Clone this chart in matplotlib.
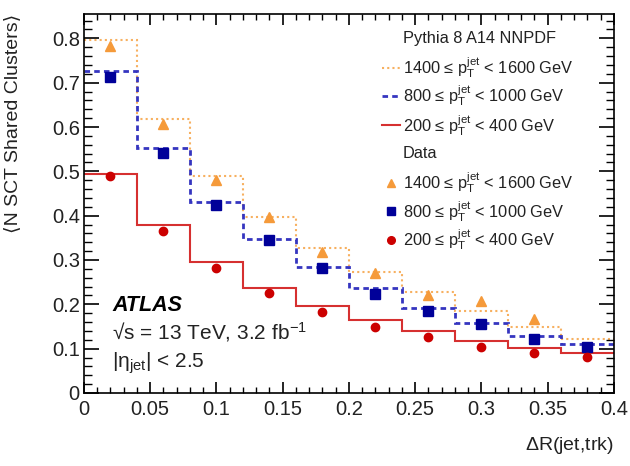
import numpy as np
import matplotlib
matplotlib.use("Agg")
import matplotlib.pyplot as plt
from matplotlib.ticker import MultipleLocator

plt.rcParams['font.family'] = ['Liberation Sans', 'DejaVu Sans']
plt.rcParams['mathtext.fontset'] = 'custom'
plt.rcParams['mathtext.rm'] = 'Liberation Sans'
plt.rcParams['mathtext.it'] = 'Liberation Sans:italic'
plt.rcParams['mathtext.bf'] = 'Liberation Sans:bold'

# binning in Delta R(jet, trk)
edges = np.linspace(0.0, 0.4, 11)
centers = 0.5 * (edges[:-1] + edges[1:])

# Pythia 8 A14 NNPDF
mc_1400 = [0.796, 0.617, 0.489, 0.397, 0.327, 0.273, 0.227, 0.185, 0.149, 0.122]
mc_800 = [0.726, 0.552, 0.430, 0.347, 0.284, 0.237, 0.192, 0.158, 0.128, 0.110]
mc_200 = [0.494, 0.379, 0.295, 0.237, 0.196, 0.165, 0.140, 0.117, 0.101, 0.090]

# Data
data_1400 = [0.782, 0.606, 0.480, 0.398, 0.318, 0.270, 0.221, 0.207, 0.168, 0.104]
data_800 = [0.712, 0.541, 0.424, 0.345, 0.282, 0.223, 0.185, 0.155, 0.121, 0.103]
data_200 = [0.489, 0.365, 0.282, 0.225, 0.183, 0.149, 0.126, 0.104, 0.090, 0.081]

pt = r"$\mathrm{p}_{\mathrm{T}}^{\mathrm{jet}}$"
labels = [u"1400 \u2264 " + pt + " < 1600 GeV",
          u"800 \u2264 " + pt + " < 1000 GeV",
          u"200 \u2264 " + pt + " < 400 GeV"]

c_orange_line = '#f7b060'
c_blue_line = '#3535c0'
c_red_line = '#d63030'
c_orange = '#f59a3a'
c_blue = '#000099'
c_red = '#cc0000'

fig = plt.figure(figsize=(6.3, 4.66), dpi=100)
ax = fig.add_axes([0.1333, 0.1567, 0.8413, 0.8133])

ax.stairs(mc_1400, edges, baseline=None, color=c_orange_line, lw=1.5, ls=(0, (1, 1.5)))
ax.stairs(mc_800, edges, baseline=None, color=c_blue_line, lw=2, ls=(0, (2, 1.5)))
ax.stairs(mc_200, edges, baseline=None, color=c_red_line, lw=1.5, ls='-')

ax.plot(centers, data_1400, '^', color=c_orange, ms=7, mec=c_orange)
ax.plot(centers, data_800, 's', color=c_blue, ms=6.5, mec=c_blue)
ax.plot(centers, data_200, 'o', color=c_red, ms=6, mec=c_red)

ax.set_xlim(0, 0.4)
ax.set_ylim(0, 0.855)
ax.xaxis.set_major_locator(MultipleLocator(0.05))
ax.xaxis.set_minor_locator(MultipleLocator(0.01))
ax.yaxis.set_major_locator(MultipleLocator(0.1))
ax.yaxis.set_minor_locator(MultipleLocator(0.02))
fmt = plt.FuncFormatter(lambda v, p: '%g' % round(v, 3))
ax.xaxis.set_major_formatter(fmt)
ax.yaxis.set_major_formatter(fmt)
ax.tick_params(which='both', direction='in', top=True, right=True, labelsize=14.5, labelcolor='#222222')
ax.tick_params(axis='x', which='major', length=8, width=1.2, pad=5)
ax.tick_params(axis='x', which='minor', length=4, width=1)
ax.tick_params(axis='y', which='major', length=11, width=1.2, pad=3)
ax.tick_params(axis='y', which='minor', length=6, width=1)
for s in ax.spines.values():
    s.set_linewidth(1.2)

ax.set_xlabel(r"$\Delta$R(jet,trk)", fontsize=14, loc='right', color='#222222')
ax.xaxis.set_label_coords(1.0, -0.112)
ax.set_ylabel(u"\u27e8N SCT Shared Clusters\u27e9", fontsize=14, loc='top', color='#222222')
ax.yaxis.set_label_coords(-0.118, 1.0)

# legend, drawn by hand in axes coordinates
tr = ax.transAxes
x_txt = 0.602
fs_leg = 11.8
ys = [0.934, 0.858, 0.784, 0.707, 0.631, 0.554, 0.480, 0.404]
ax.text(x_txt, ys[0], "Pythia 8 A14 NNPDF", transform=tr, fontsize=fs_leg, va='center', color='#222222')
line_styles = [(c_orange_line, (0, (1, 1.5)), 1.5), (c_blue_line, (0, (2, 1.5)), 2), (c_red_line, '-', 1.5)]
for y, lab, (c, ls, lw) in zip(ys[1:4], labels, line_styles):
    ax.plot([0.562, 0.596], [y, y], transform=tr, color=c, ls=ls, lw=lw)
    ax.text(x_txt, y, lab, transform=tr, fontsize=fs_leg, va='center', color='#222222')
ax.text(x_txt, ys[4], "Data", transform=tr, fontsize=fs_leg, va='center', color='#222222')
for y, lab, (m, c, ms) in zip(ys[5:], labels, [('^', c_orange, 6), ('s', c_blue, 5.5), ('o', c_red, 5.5)]):
    ax.plot([0.579], [y], m, transform=tr, color=c, ms=ms)
    ax.text(x_txt, y, lab, transform=tr, fontsize=fs_leg, va='center', color='#222222')

ax.text(0.053, 0.232, "ATLAS", transform=tr, fontsize=15.5, fontweight='bold', style='italic', va='center')
ax.text(0.053, 0.161, u"\u221as = 13 TeV, 3.2 fb$^{-1}$", transform=tr, fontsize=15, va='center', color='#222222')
ax.text(0.053, 0.079, u"|\u03b7$_{\\mathrm{jet}}$| < 2.5", transform=tr, fontsize=15, va='center', color='#222222')

fig.savefig("out.png", dpi=100)
